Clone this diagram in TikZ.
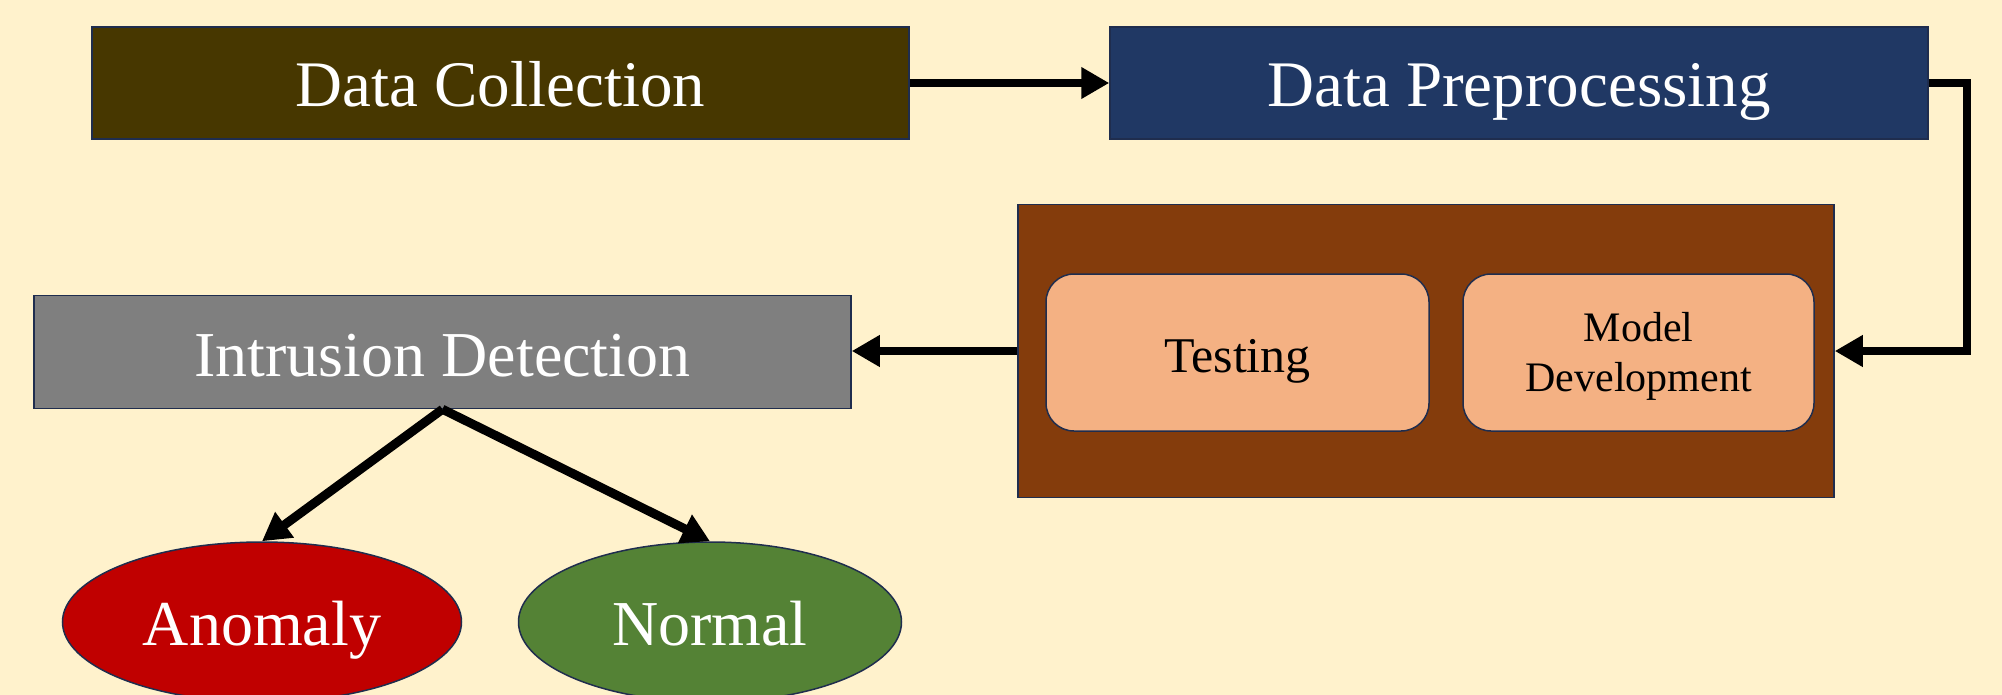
\documentclass[tikz,border=0pt]{standalone}
\usepackage{fontspec}
\setmainfont{Liberation Serif}
\usetikzlibrary{arrows.meta,shapes.geometric}
\definecolor{bgyellow}{HTML}{FFF2CC}
\definecolor{olivebrown}{HTML}{473700}
\definecolor{navyfill}{HTML}{203864}
\definecolor{rust}{HTML}{843C0C}
\definecolor{peach}{HTML}{F4B183}
\definecolor{midgray}{HTML}{7F7F7F}
\definecolor{darkred}{HTML}{C00000}
\definecolor{leafgreen}{HTML}{548235}
\definecolor{edgenavy}{HTML}{1F2D4E}
\tikzset{
  mainbox/.style={draw=edgenavy, line width=1.5pt, rectangle, inner sep=0pt,
    minimum width=817pt, minimum height=112pt, text=white,
    text height=48pt, text depth=0pt,
    font=\fontsize{65}{72}\selectfont},
  innerbox/.style={draw=edgenavy, line width=1.5pt, rectangle, rounded corners=28pt,
    fill=peach, inner sep=0pt, text=black},
  outcome/.style={draw=edgenavy, line width=1.5pt, ellipse, inner sep=0pt,
    minimum height=160pt, text=white, text height=46pt, text depth=0pt,
    font=\fontsize{64}{70}\selectfont},
  flow/.style={line width=8pt, -{Triangle[length=28pt,width=30pt]}},
}
\begin{document}
\begin{tikzpicture}[x=1pt,y=-1pt]
  % page background
  \fill[bgyellow] (0,0) rectangle (2002,695);
  \useasboundingbox (0,0) rectangle (2002,695);

  % pipeline stages
  \node[mainbox, fill=olivebrown] (dc) at (500.5,83) {Data Collection};
  \node[mainbox, fill=navyfill, minimum width=818pt] (dp) at (1519,83) {Data Preprocessing};

  % model group
  \node[draw=edgenavy, line width=1.5pt, fill=rust, minimum width=816pt,
        minimum height=293pt, inner sep=0pt] (grp) at (1426,351) {};
  \node[innerbox, minimum width=383pt, minimum height=157pt,
        text height=39pt, text depth=0pt,
        font=\fontsize{50}{56}\selectfont] (test) at (1237.5,352.5) {Testing};
  \node[innerbox, minimum width=351pt, minimum height=157pt,
        text height=28pt, text depth=50pt,
        font=\fontsize{42}{50}\selectfont] (model) at (1638.5,352.5)
        {\begin{tabular}[t]{@{}c@{}}Model\\Development\end{tabular}};

  % detection and outcomes
  \node[mainbox, fill=midgray, minimum width=817pt, minimum height=113pt,
        font=\fontsize{64}{70}\selectfont] (ids) at (442.5,352) {Intrusion Detection};
  \node[outcome, fill=darkred, minimum width=399pt] (anom) at (262,622) {Anomaly};
  \node[outcome, fill=leafgreen, minimum width=383pt] (norm) at (710,622) {Normal};

  % connectors
  \draw[flow] (dc.east) -- (dp.west);
  \draw[flow] (dp.east) -- ++(38,0) |- (grp.east);
  \draw[flow] (grp.west) -- (grp.west -| ids.east);
  \draw[flow, line width=9pt] (ids.south) -- (anom.north);
  \draw[flow, line width=9pt] (ids.south) -- (norm.north);
\end{tikzpicture}
\end{document}
